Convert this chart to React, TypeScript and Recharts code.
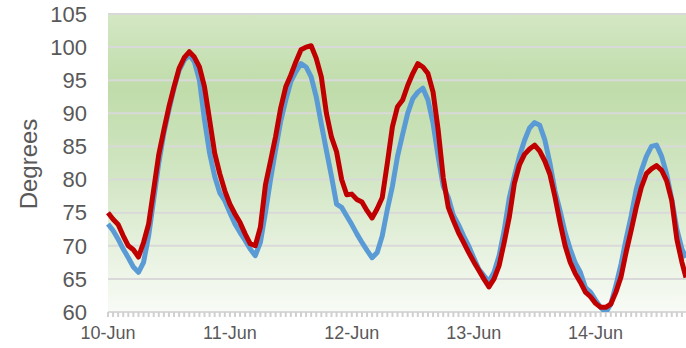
import React from 'react';
import { LineChart, Line, XAxis, YAxis, CartesianGrid } from 'recharts';

// hours since 10-Jun 00:00
const hours = [
  0, 1, 2, 3, 4, 5, 6, 7, 8, 9, 10, 11,
  12, 13, 14, 15, 16, 17, 18, 19, 20, 21, 22, 23,
  24, 25, 26, 27, 28, 29, 30, 31, 32, 33, 34, 35,
  36, 37, 38, 39, 40, 41, 42, 43, 44, 45, 46, 47,
  48, 49, 50, 51, 52, 53, 54, 55, 56, 57, 58, 59,
  60, 61, 62, 63, 64, 65, 66, 67, 68, 69, 70, 71,
  72, 73, 74, 75, 76, 77, 78, 79, 80, 81, 82, 83,
  84, 85, 86, 87, 88, 89, 90, 91, 92, 93, 94, 95,
  96, 97, 98, 99, 100, 101, 102, 103, 104, 105, 106, 107,
  108, 109, 110, 111, 112, 113, 113.8,
];

const redTemps = [
  75.0, 74.0, 73.2, 71.5, 70.0, 69.4, 68.3, 70.5, 73.3, 78.5, 83.8, 87.5,
  91.0, 94.0, 96.8, 98.4, 99.3, 98.5, 97.0, 94.0, 89.0, 84.0, 80.9, 78.3,
  76.3, 74.8, 73.5, 71.8, 70.3, 70.0, 72.8, 79.2, 82.8, 86.5, 90.8, 94.0,
  95.8, 97.8, 99.6, 100.0, 100.2, 98.3, 95.5, 90.0, 86.4, 84.2, 80.0, 77.7,
  77.8, 77.0, 76.6, 75.3, 74.2, 75.6, 77.3, 82.5, 88.0, 91.0, 92.0, 94.2,
  96.0, 97.5, 97.0, 96.0, 93.2, 87.5, 80.3, 75.8, 73.8, 72.0, 70.5, 69.0,
  67.6, 66.3, 65.0, 63.8, 65.0, 67.0, 70.5, 74.3, 79.4, 82.2, 83.8, 84.6,
  85.2, 84.3, 82.8, 80.8, 77.4, 73.5, 70.0, 67.5, 65.8, 64.5, 63.0, 62.3,
  61.3, 60.7, 60.7, 61.2, 63.0, 65.3, 69.0, 72.3, 75.8, 78.8, 80.9, 81.6,
  82.1, 81.4, 79.8, 76.8, 71.0, 67.5, 65.2,
];

const blueTemps = [
  73.3, 72.3, 71.0, 69.5, 68.2, 66.8, 66.0, 67.5, 71.5, 77.0, 82.5, 87.0,
  90.5, 93.8, 96.5, 98.0, 98.8, 97.8, 95.0, 89.0, 84.0, 80.5, 78.0, 76.8,
  75.0, 73.3, 72.0, 70.8, 69.5, 68.5, 70.5, 75.0, 80.0, 84.5, 88.8, 92.0,
  94.8, 96.3, 97.5, 97.0, 95.5, 92.5, 88.4, 84.4, 80.5, 76.3, 75.8, 74.5,
  73.2, 71.8, 70.5, 69.3, 68.2, 69.0, 71.5, 75.5, 79.0, 83.5, 86.8, 90.0,
  92.2, 93.2, 93.8, 92.0, 88.5, 83.5, 79.0, 77.3, 74.6, 73.2, 71.5, 70.0,
  68.2, 66.5, 65.5, 64.6, 66.0, 68.5, 72.3, 77.2, 80.5, 83.5, 85.9, 87.8,
  88.6, 88.2, 86.0, 82.5, 78.3, 75.3, 72.0, 69.5, 67.4, 66.0, 63.7, 63.0,
  61.8, 60.7, 59.9, 61.2, 64.0, 67.2, 71.0, 74.5, 78.5, 81.3, 83.5, 85.0,
  85.2, 83.5, 80.8, 77.0, 72.5, 69.5, 68.2,
];

const dayLabels = ['10-Jun', '11-Jun', '12-Jun', '13-Jun', '14-Jun'];
const yTicks = [60, 65, 70, 75, 80, 85, 90, 95, 100, 105];

const data = hours.map((h, i) => ({ h, red: redTemps[i], blue: blueTemps[i] }));

// one small tick mark per hour, label only at midnight
const hourTicks = hours.filter((h) => Number.isInteger(h));
const formatHour = (h: number) => (h % 24 === 0 ? dayLabels[h / 24] ?? '' : '');

const DegreesLabel = () => (
  <text
    x={28}
    y={164}
    transform="rotate(-90, 28, 164)"
    textAnchor="middle"
    dominantBaseline="central"
    fill="#595959"
    fontSize={24}
  >
    Degrees
  </text>
);

export default function App() {
  return (
    <div style={{ position: 'absolute', left: 0, top: 0 }}>
      <LineChart
        width={686}
        height={348}
        data={data}
        margin={{ top: 14, right: 0, bottom: 0, left: 0 }}
        style={{ fontFamily: '"Liberation Sans", Arial, sans-serif' }}
      >
        <defs>
          <linearGradient id="plotBg" x1="0" y1="0" x2="0" y2="1">
            <stop offset="0" stopColor="#d3e7c4" />
            <stop offset="0.25" stopColor="#c0dcaa" />
            <stop offset="0.55" stopColor="#d2e6c4" />
            <stop offset="0.8" stopColor="#e8f2e0" />
            <stop offset="1" stopColor="#f8fbf6" />
          </linearGradient>
        </defs>
        <CartesianGrid
          vertical={false}
          stroke="#d9d9d9"
          strokeWidth={2}
          fill="url(#plotBg)"
          fillOpacity={1}
        />
        <XAxis
          dataKey="h"
          type="number"
          domain={[0, 113.8]}
          ticks={hourTicks}
          interval={0}
          height={36}
          tickFormatter={formatHour}
          axisLine={false}
          tickLine={{ stroke: '#d0d0d0', strokeWidth: 2 }}
          tickSize={5}
          tickMargin={9}
          tick={{ fill: '#595959', fontSize: 18 }}
        />
        <YAxis
          type="number"
          domain={[60, 105]}
          ticks={yTicks}
          interval={0}
          allowDataOverflow
          width={108}
          axisLine={false}
          tickLine={false}
          tickSize={0}
          tickMargin={21}
          tick={{ fill: '#595959', fontSize: 22 }}
          label={{ content: DegreesLabel }}
        />
        <Line
          type="linear"
          dataKey="blue"
          stroke="#5b9bd5"
          strokeWidth={5}
          strokeLinejoin="round"
          dot={false}
          isAnimationActive={false}
        />
        <Line
          type="linear"
          dataKey="red"
          stroke="#c00000"
          strokeWidth={5}
          strokeLinejoin="round"
          dot={false}
          isAnimationActive={false}
        />
      </LineChart>
    </div>
  );
}
